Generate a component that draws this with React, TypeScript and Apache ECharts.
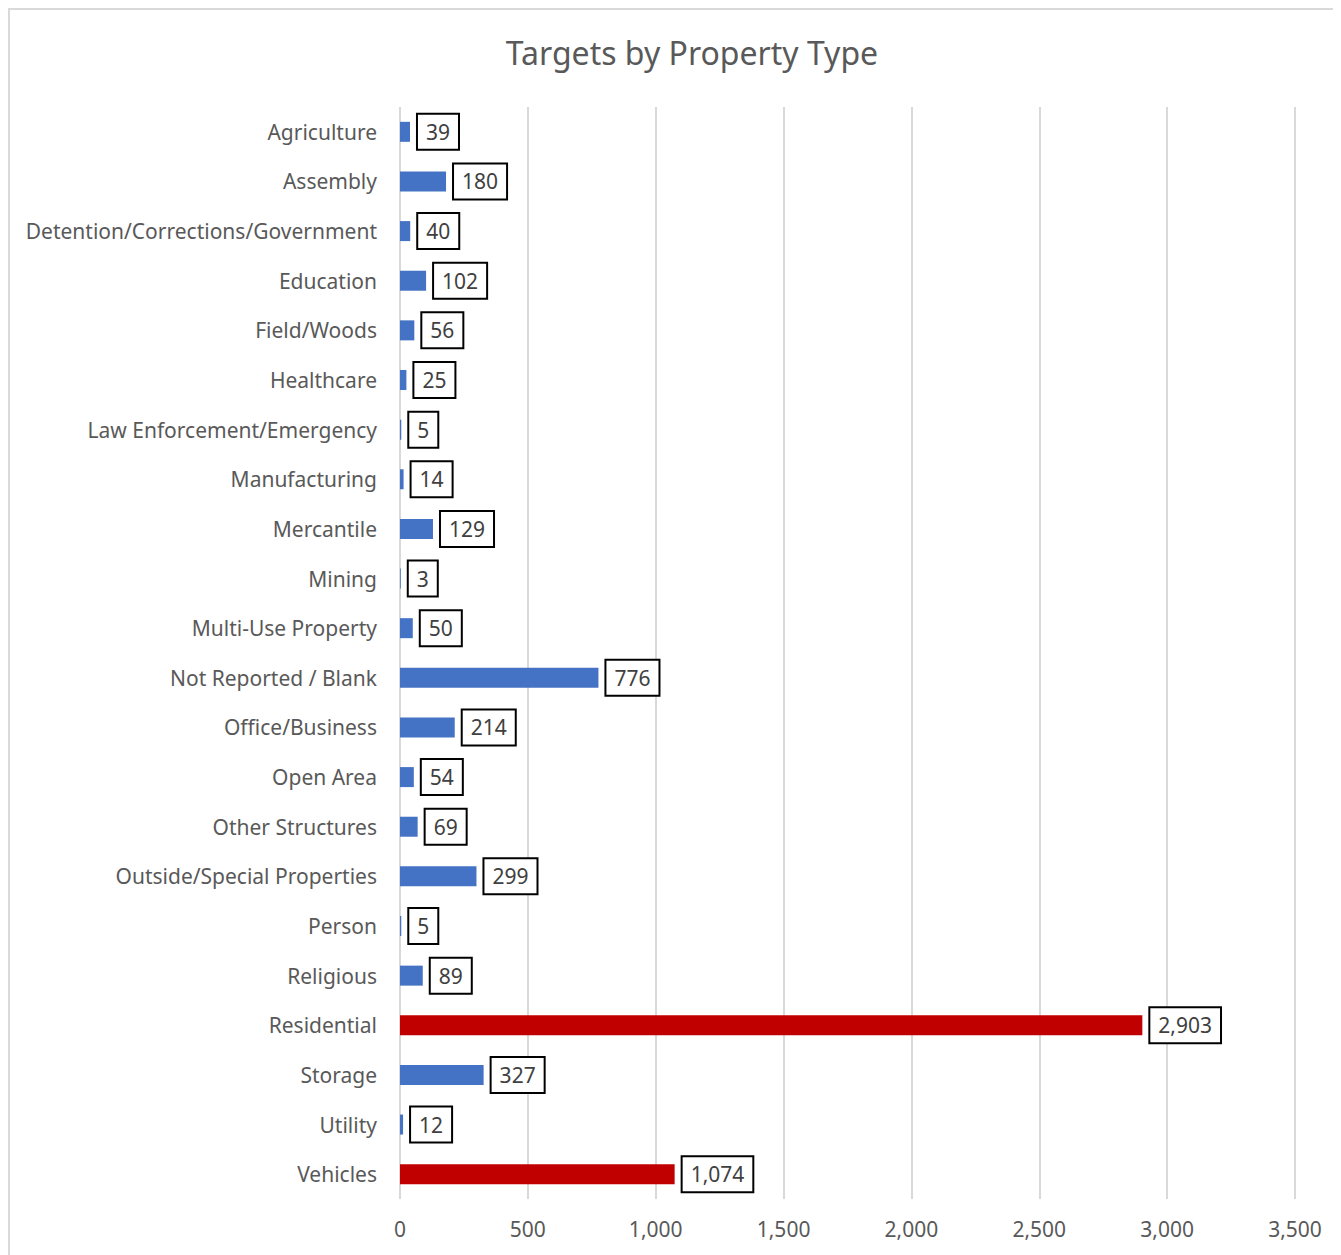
import React, { useEffect, useRef } from "react";
import * as echarts from "echarts";

const categories = [
  "Agriculture",
  "Assembly",
  "Detention/Corrections/Government",
  "Education",
  "Field/Woods",
  "Healthcare",
  "Law Enforcement/Emergency",
  "Manufacturing",
  "Mercantile",
  "Mining",
  "Multi-Use Property",
  "Not Reported / Blank",
  "Office/Business",
  "Open Area",
  "Other Structures",
  "Outside/Special Properties",
  "Person",
  "Religious",
  "Residential",
  "Storage",
  "Utility",
  "Vehicles",
];

const values = [39, 180, 40, 102, 56, 25, 5, 14, 129, 3, 50, 776, 214, 54, 69, 299, 5, 89, 2903, 327, 12, 1074];

const highlighted = ["Residential", "Vehicles"];

const xTicks = { min: 0, max: 3500, interval: 500 };

const FONT = "'Noto Sans', 'Open Sans', sans-serif";

export default function App() {
  const ref = useRef<HTMLDivElement>(null);
  useEffect(() => {
    if (!ref.current) return;
    const chart = echarts.init(ref.current, undefined, { renderer: "svg" });
    chart.setOption({
      animation: false,
      textStyle: { fontFamily: FONT },
      title: {
        text: "Targets by Property Type",
        left: 677,
        top: 21,
        textAlign: "center",
        textStyle: { fontFamily: FONT, fontSize: 32, fontWeight: "normal", color: "#595959" },
      },
      grid: { left: 390, right: 56, top: 97, bottom: 67, containLabel: false },
      xAxis: {
        type: "value",
        min: xTicks.min,
        max: xTicks.max,
        interval: xTicks.interval,
        axisLine: { show: false },
        axisTick: { show: false },
        splitLine: { show: true, lineStyle: { color: "#d9d9d9", width: 2 } },
        axisLabel: {
          color: "#595959",
          fontSize: 21,
          fontFamily: FONT,
          margin: 19,
          formatter: (v: number) => v.toLocaleString("en-US"),
        },
      },
      yAxis: {
        type: "category",
        data: categories,
        inverse: true,
        axisLine: { show: false },
        axisTick: { show: false },
        axisLabel: { color: "#595959", fontSize: 21, fontFamily: FONT, margin: 23 },
      },
      series: [
        {
          type: "bar",
          barWidth: 20,
          data: values.map((v, i) => ({
            value: v,
            itemStyle: { color: highlighted.includes(categories[i]) ? "#C00000" : "#4472C4" },
          })),
          label: {
            show: true,
            position: "right",
            distance: 8,
            color: "#404040",
            fontSize: 21,
            fontFamily: FONT,
            backgroundColor: "#ffffff",
            borderColor: "#000000",
            borderWidth: 2,
            padding: [7, 8, 6, 8],
            formatter: (p: any) => Number(p.value).toLocaleString("en-US"),
          },
        },
      ],
    });
    return () => chart.dispose();
  }, []);
  return (
    <div style={{ width: 1345, height: 1260, border: "2px solid #d9d9d9", boxSizing: "border-box" }}>
      <div ref={ref} style={{ width: 1341, height: 1256 }} />
    </div>
  );
}
